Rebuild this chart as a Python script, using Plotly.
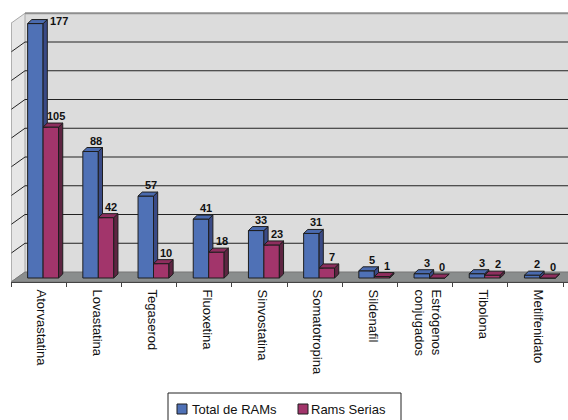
import plotly.graph_objects as go

# --- data ---------------------------------------------------------------
categorias = ["Atorvastatina", "Lovastatina", "Tegaserod", "Fluoxetina",
              "Sinvostatina", "Somatotropina", "Sildenafil",
              "Estrógenos<br>conjugados", "Tibolona", "Metilfenidato"]
total_rams = [177, 88, 57, 41, 33, 31, 5, 3, 3, 2]
rams_serias = [105, 42, 10, 18, 23, 7, 1, 0, 2, 0]
series_names = ["Total de RAMs", "Rams Serias"]
y_max = 180
y_step = 20

# --- geometry / style ---------------------------------------------------
W, H = 568, 420
ML, MT = 11, 6
PLOT_W = W - ML
FRONT_Y = 282                       # pixel row of the front floor edge
PLOT_H = FRONT_Y - MT
X0 = -0.5
X1 = X0 + PLOT_W / 55.2
Y1 = 192
PXX = PLOT_W / (X1 - X0)            # pixels per x unit
PXY = PLOT_H / Y1                   # pixels per y unit

WX, WY = 14 / PXX, 10 / PXY         # depth of the walls
BASE = 4 / PXY                      # bars sit slightly behind the front edge
SHIFT = 5.6 / PXX
DX, DY = 4.2 / PXX, 4 / PXY         # depth of each bar
BW = 0.28
OFFSETS = [-0.2 + SHIFT - 0.1, 0.08 + SHIFT - 0.1]
LABEL_SHIFT = 3 / PXX               # category text sits a little right of centre

FRONT = ["#4F71B6", "#A2356B"]
SIDE = ["#3A4A86", "#5E2542"]
TOP = ["#4A6AAE", "#8E2E5E"]
EDGE = "#1E1E1E"
FONT = "Liberation Sans, Arial, sans-serif"

fig = go.Figure()

# front faces of the columns
for s, vals in enumerate([total_rams, rams_serias]):
    fig.add_trace(go.Bar(
        x=list(range(len(categorias))), y=vals, base=BASE,
        offset=OFFSETS[s], width=BW, name=series_names[s],
        marker=dict(color=FRONT[s], line=dict(color=EDGE, width=1)),
        showlegend=False, hoverinfo="skip"))

# side and top faces of the columns (drawn after the fronts)
for s, vals in enumerate([total_rams, rams_serias]):
    sx, sy, tx, ty = [], [], [], []
    for i, v in enumerate(vals):
        xl = i + OFFSETS[s]
        xr = xl + BW
        top = BASE + v
        low = BASE
        if s == 0:
            # part of the side hidden behind the neighbouring front face
            low = max(BASE, BASE + rams_serias[i])
        if low <= top:
            sx += [xr, xr + DX, xr + DX, xr, xr, None]
            if low == BASE:
                sy += [BASE, BASE + DY, top + DY, top, BASE, None]
            else:
                sy += [low, max(low, BASE + DY), top + DY, top, low, None]
        tx += [xl, xl + DX, xr + DX, xr, xl, None]
        ty += [top, top + DY, top + DY, top, top, None]
    fig.add_trace(go.Scatter(x=sx, y=sy, mode="lines", fill="toself",
                             fillcolor=SIDE[s], line=dict(color=EDGE, width=1),
                             showlegend=False, hoverinfo="skip"))
    fig.add_trace(go.Scatter(x=tx, y=ty, mode="lines", fill="toself",
                             fillcolor=TOP[s], line=dict(color=EDGE, width=1),
                             showlegend=False, hoverinfo="skip"))

# value labels
for s, vals in enumerate([total_rams, rams_serias]):
    for i, v in enumerate(vals):
        xl = i + OFFSETS[s]
        top = BASE + v + DY
        if top + 11 / PXY > WY + y_max:
            fig.add_annotation(x=xl + BW + DX, y=top, text=f"<b>{v}</b>",
                               showarrow=False, xanchor="left", yanchor="middle",
                               xshift=1, yshift=-1,
                               font=dict(family=FONT, size=11, color="#111"))
        else:
            fig.add_annotation(x=xl + (BW + DX) / 2, y=top, text=f"<b>{v}</b>",
                               showarrow=False, xanchor="center", yanchor="bottom",
                               xshift=3, yshift=-1,
                               font=dict(family=FONT, size=11, color="#111"))

# walls, floor and gridlines
shapes = []
bx = X0 + WX
shapes.append(dict(type="rect", xref="x", yref="y", x0=bx, x1=X1 + 1,
                   y0=WY, y1=WY + y_max, fillcolor="#DCDCDC",
                   line=dict(width=0), layer="below"))
shapes.append(dict(type="path", xref="x", yref="y",
                   path=f"M {X0},0 L {bx},{WY} L {bx},{WY + y_max} L {X0},{y_max} Z",
                   fillcolor="#E6E6E6", line=dict(color="#A8A8A8", width=1),
                   layer="below"))
for k in range(1, y_max // y_step):
    yv = k * y_step
    shapes.append(dict(type="line", xref="x", yref="y", x0=bx, x1=X1 + 1,
                       y0=WY + yv, y1=WY + yv,
                       line=dict(color="#222222", width=1), layer="below"))
    shapes.append(dict(type="line", xref="x", yref="y", x0=X0, x1=bx,
                       y0=yv, y1=WY + yv,
                       line=dict(color="#222222", width=1), layer="below"))
shapes.append(dict(type="line", xref="x", yref="y", x0=bx, x1=X1 + 1,
                   y0=WY + y_max, y1=WY + y_max,
                   line=dict(color="#8E8E8E", width=2), layer="below"))
shapes.append(dict(type="path", xref="x", yref="y",
                   path=f"M {X0},0 L {bx},{WY} L {X1 + 1},{WY} L {X1 + 1},0 Z",
                   fillcolor="#8A8D8D", line=dict(color="#777777", width=1),
                   layer="below"))
shapes.append(dict(type="line", xref="x", yref="y", x0=X0, x1=X0,
                   y0=0, y1=y_max, line=dict(color="#9A9A9A", width=1),
                   layer="below"))


# legend drawn in pixel space
def px(x):
    return (x - ML) / PLOT_W


def py(y):
    return 1 - (y - MT) / PLOT_H


shapes.append(dict(type="rect", xref="paper", yref="paper",
                   x0=px(168), x1=px(401), y0=py(393), y1=py(425),
                   fillcolor="white", line=dict(color="#222", width=1)))
for s, (lx, tx) in enumerate([(177, 190), (298, 309)]):
    shapes.append(dict(type="rect", xref="paper", yref="paper",
                       x0=px(lx), x1=px(lx + 10), y0=py(404), y1=py(414),
                       fillcolor=FRONT[s], line=dict(color=EDGE, width=1)))
    fig.add_annotation(xref="paper", yref="paper", x=px(tx), y=py(409),
                       text=series_names[s], showarrow=False,
                       xanchor="left", yanchor="middle",
                       font=dict(family=FONT, size=13, color="#111"))

fig.update_layout(
    width=W, height=H, margin=dict(l=ML, r=0, t=MT, b=H - FRONT_Y),
    paper_bgcolor="white", plot_bgcolor="white",
    barmode="overlay", shapes=shapes, showlegend=False,
    font=dict(family=FONT, color="#111"),
)
fig.update_xaxes(range=[X0, X1], tickmode="array",
                 tickvals=[i + LABEL_SHIFT for i in range(len(categorias))],
                 ticktext=categorias,
                 tickangle=90, tickfont=dict(size=13, family=FONT, color="#111"),
                 ticks="outside", ticklen=4, tickcolor="rgba(0,0,0,0)",
                 showgrid=False, zeroline=False, showline=True,
                 linecolor="#444", linewidth=1,
                 minor=dict(tickvals=[i - 0.5 for i in range(len(categorias) + 1)],
                            ticks="outside", ticklen=4, tickcolor="#444",
                            showgrid=False))
fig.update_yaxes(range=[0, Y1], showgrid=False, zeroline=False,
                 showticklabels=False, showline=False)

fig.write_html("out.html")
